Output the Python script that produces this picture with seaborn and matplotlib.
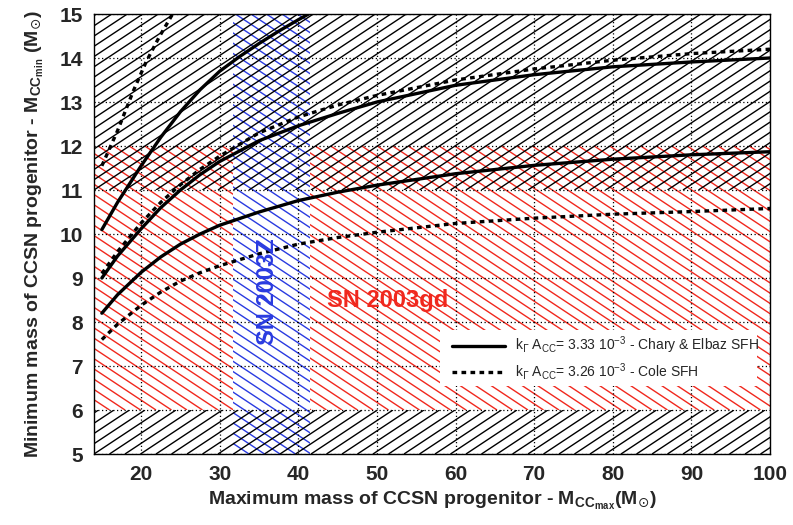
import numpy as np
import pandas as pd
import matplotlib
matplotlib.use("Agg")
import matplotlib.pyplot as plt
import seaborn as sns
from matplotlib.collections import LineCollection
from matplotlib.patches import Rectangle
from matplotlib.lines import Line2D
from matplotlib.ticker import MultipleLocator

# --- Minimum vs maximum CCSN progenitor mass curves -------------------------
# Chary & Elbaz SFH (solid)
ce_low_x = [15, 17, 20, 22.5, 25, 27.5, 30, 35, 40, 45, 50, 60, 70, 80, 90, 100]
ce_low_y = [8.2, 8.62, 9.13, 9.48, 9.77, 10.0, 10.2, 10.5, 10.76, 10.95, 11.11, 11.37,
            11.56, 11.70, 11.80, 11.87]
ce_mid_x = [15, 17, 20, 22.5, 25, 27.5, 30, 35, 40, 45, 50, 60, 70, 80, 90, 100]
ce_mid_y = [9.0, 9.5, 10.12, 10.6, 11.0, 11.35, 11.65, 12.12, 12.46, 12.74, 13.0, 13.38,
            13.62, 13.80, 13.91, 14.0]
ce_high_x = [15, 17, 20, 22.5, 25, 27.5, 30, 32.5, 35, 37.5, 40, 41.3]
ce_high_y = [10.1, 10.72, 11.55, 12.2, 12.78, 13.28, 13.7, 14.03, 14.33, 14.61, 14.87, 15.0]

# Cole SFH (dotted)
cole_low_x = [15, 17, 20, 22.5, 25, 27.5, 30, 35, 40, 45, 50, 60, 70, 80, 90, 100]
cole_low_y = [7.6, 7.95, 8.38, 8.68, 8.93, 9.12, 9.28, 9.55, 9.77, 9.92, 10.04, 10.24,
              10.36, 10.45, 10.51, 10.58]
cole_mid_x = [15, 17, 20, 22.5, 25, 27.5, 30, 35, 40, 45, 50, 60, 70, 80, 90, 100]
cole_mid_y = [9.1, 9.6, 10.25, 10.72, 11.12, 11.47, 11.77, 12.3, 12.66, 12.93, 13.15, 13.5,
              13.75, 13.95, 14.1, 14.2]
cole_high_x = [15, 16, 17, 18, 19, 20.6, 22.3, 24]
cole_high_y = [11.55, 11.95, 12.35, 12.8, 13.25, 13.9, 14.48, 15.0]

# --- Excluded / allowed mass ranges ----------------------------------------
black_bands = [(11.0, 15.0), (5.0, 6.0)]      # excluded M_min ranges
sn2003gd_band = (6.0, 12.0)                   # SN 2003gd progenitor
sn2003z_band = (31.7, 41.5)                   # SN 2003Z progenitor (M_max)

legend_labels = [
    r"k$_{\Gamma}$ A$_{\mathregular{CC}}$= 3.33 10$^{\mathregular{-3}}$ - Chary & Elbaz SFH",
    r"k$_{\Gamma}$ A$_{\mathregular{CC}}$= 3.26 10$^{\mathregular{-3}}$ - Cole SFH",
]

XLIM = (14, 100)
YLIM = (5, 15)

sns.set_theme(style="white")
plt.rcParams["font.family"] = ["Liberation Sans", "DejaVu Sans"]
plt.rcParams["mathtext.fontset"] = "dejavusans"

W, H = 793, 525
fig = plt.figure(figsize=(W / 100, H / 100), dpi=100)
ax = fig.add_axes([94 / W, 1 - 454 / H, (770 - 94) / W, (454 - 14) / H])
ax.set_xlim(*XLIM)
ax.set_ylim(*YLIM)

RED = "#f0281e"
BLUE = "#2a3be0"
SLOPE = H / W          # hatch angle follows the pad aspect
SPACING = 15.5         # horizontal hatch pitch in pixels


def hatch_box(x0, x1, y0, y1, color, direction, zorder, face=None):
    rect = Rectangle((x0, y0), x1 - x0, y1 - y0, facecolor=face if face else "none",
                     edgecolor="none", zorder=zorder - 0.05)
    ax.add_patch(rect)
    (px0, py0), (px1, py1) = ax.transData.transform([(x0, y0), (x1, y1)])
    ax0 = ax.transAxes.transform([(0, 0)])[0][0]
    s = SLOPE * direction
    dx = (py1 - py0) / s
    lo = min(px0, px0 - dx) - SPACING
    hi = max(px1, px1 - dx) + SPACING
    k0 = int(np.floor((lo - ax0) / SPACING))
    k1 = int(np.ceil((hi - ax0) / SPACING))
    inv = ax.transData.inverted()
    segs = [inv.transform([(ax0 + k * SPACING, py0), (ax0 + k * SPACING + dx, py1)])
            for k in range(k0, k1 + 1)]
    lc = LineCollection(segs, colors=color, linewidths=1.0, zorder=zorder)
    ax.add_collection(lc, autolim=False)
    lc.set_clip_path(rect)


# SN 2003gd allowed band (red, down-right)
hatch_box(XLIM[0], XLIM[1], *sn2003gd_band, RED, -1, zorder=1.0)
# SN 2003Z allowed band (blue, down-right) on a white ground
hatch_box(*sn2003z_band, *YLIM, BLUE, -1, zorder=1.3, face="white")
# Excluded minimum-mass ranges (black, up-right)
for lo, hi in black_bands:
    hatch_box(XLIM[0], XLIM[1], lo, hi, "black", +1, zorder=1.6)

# Curves
DOTTED = (0, (1.4, 1.3))
curves = [
    (ce_low_x, ce_low_y, "-"), (ce_mid_x, ce_mid_y, "-"), (ce_high_x, ce_high_y, "-"),
    (cole_low_x, cole_low_y, DOTTED), (cole_mid_x, cole_mid_y, DOTTED),
    (cole_high_x, cole_high_y, DOTTED),
]
for xs, ys, ls in curves:
    sns.lineplot(x=xs, y=ys, ax=ax, color="black", linewidth=2.4, linestyle=ls,
                 zorder=3, sort=False, estimator=None)

# Annotations
ax.text(51.4, 8.48, "SN 2003gd", color=RED, fontsize=17, fontweight="bold",
        ha="center", va="center", zorder=4)
ax.text(36.1, 8.7, "SN 2003Z", color=BLUE, fontsize=17, fontweight="bold",
        ha="center", va="center", rotation=90, zorder=4)

# Legend: white box without border, entries placed inside it
ax.add_patch(Rectangle((0.512, 0.1545), 0.469, 0.1275, transform=ax.transAxes,
                       facecolor="white", edgecolor="none", zorder=5.5))
handles = [Line2D([], [], color="black", lw=2.4, ls="-"),
           Line2D([], [], color="black", lw=2.4, ls=DOTTED)]
leg = ax.legend(handles, legend_labels, loc="center left", bbox_to_anchor=(0.5296, 0.217),
                borderaxespad=0, borderpad=0, frameon=False, fontsize=10,
                handlelength=3.8, handletextpad=0.72, labelspacing=0.35)
leg.set_zorder(6)

# Grid, ticks, frame
ax.xaxis.set_major_locator(MultipleLocator(10))
ax.xaxis.set_minor_locator(MultipleLocator(2))
ax.yaxis.set_major_locator(MultipleLocator(1))
ax.yaxis.set_minor_locator(MultipleLocator(0.2))
ax.set_axisbelow(False)
ax.grid(True, which="major", color="black", linestyle=(0, (1, 2)), linewidth=0.9)
ax.grid(False, which="minor")
ax.tick_params(which="both", direction="in", top=False, right=False, color="black",
               width=1)
ax.tick_params(which="major", length=14, labelsize=15, pad=8)
ax.tick_params(which="minor", length=7)
for lab in ax.get_xticklabels() + ax.get_yticklabels():
    lab.set_fontweight("bold")
for sp in ax.spines.values():
    sp.set_color("black")
    sp.set_linewidth(1.0)
    sp.set_zorder(7)

ax.set_xlabel(r"Maximum mass of CCSN progenitor - M$_{\mathregular{CC}_{\mathregular{max}}}$(M$_{\odot}$)",
              fontsize=14, fontweight="bold", labelpad=4)
ax.set_ylabel(r"Minimum mass of CCSN progenitor - M$_{\mathregular{CC}_{\mathregular{min}}}$ (M$_{\odot}$)",
              fontsize=14, fontweight="bold", labelpad=10)

fig.savefig("out.png", dpi=100)
